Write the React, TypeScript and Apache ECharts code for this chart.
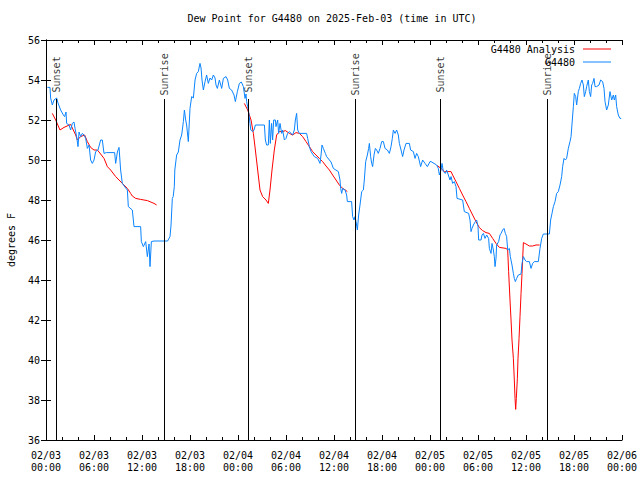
import React, { useEffect, useRef } from "react";
import * as echarts from "echarts";

const TITLE = "Dew Point for G4480 on 2025-Feb-03 (time in UTC)";
const OBS_NAME = "G4480";
const ANALYSIS_NAME = "G4480 Analysis";
const Y_NAME = "degrees F";
const DAY_LABELS = ["02/03", "02/04", "02/05", "02/06"];

// hours since 2025-02-03 00:00 UTC
const sunEventNames = ["Sunset", "Sunrise", "Sunset", "Sunrise", "Sunset", "Sunrise"];
const sunEventHours = [1.25, 14.78, 25.25, 38.63, 49.29, 62.65];

// [hours since 02/03 00:00 UTC, dew point °F]
const g4480Obs: [number, number][] = [
  [0.17, 53.63], [0.5, 53.63], [0.58, 53.1], [0.79, 52.75], [1.0, 53.0], [1.33, 53.1], [1.5, 52.85],
  [1.83, 52.5], [2.17, 52.25], [2.33, 52.17], [2.5, 52.4], [2.58, 51.83], [2.88, 51.75], [3.08, 51.5],
  [3.29, 51.83], [3.5, 51.9], [3.63, 51.58], [3.83, 51.17], [4.0, 50.67], [4.13, 51.4], [4.33, 51.17],
  [4.54, 51.33], [4.75, 51.25], [4.96, 51.08], [5.17, 50.58], [5.38, 50.75], [5.58, 50.0], [5.79, 49.83],
  [6.0, 50.0], [6.21, 50.42], [6.5, 50.5], [6.83, 51.0], [7.04, 51.0], [7.25, 50.33], [7.54, 50.37],
  [8.58, 50.37], [8.71, 49.83], [8.92, 50.4], [9.13, 50.63], [9.33, 49.5], [9.54, 48.83], [9.96, 48.6],
  [10.17, 48.5], [10.29, 47.67], [10.79, 47.5], [11.0, 46.67], [11.83, 46.67], [11.92, 45.92],
  [12.17, 45.67], [12.46, 45.92], [12.67, 45.17], [12.88, 45.8], [13.0, 44.67], [13.17, 45.92],
  [13.5, 45.95], [15.2, 45.95], [15.5, 46.17], [15.63, 46.75], [15.79, 48.08], [15.9, 48.17],
  [16.04, 48.67], [16.1, 49.5], [16.33, 50.25], [16.54, 50.4], [16.75, 51.0], [16.96, 51.25],
  [17.17, 51.92], [17.3, 52.5], [17.46, 52.0], [17.58, 51.75], [17.79, 50.92], [18.0, 52.58],
  [18.21, 53.17], [18.42, 53.1], [18.63, 54.0], [18.83, 54.33], [19.04, 54.42], [19.25, 54.83],
  [19.38, 54.6], [19.5, 54.0], [19.67, 53.5], [19.88, 53.92], [20.08, 54.25], [20.29, 53.83],
  [20.5, 54.1], [20.71, 54.0], [20.92, 54.25], [21.13, 54.1], [21.25, 53.75], [21.42, 53.58],
  [21.67, 54.0], [21.96, 53.58], [22.17, 54.08], [22.5, 54.17], [22.71, 54.0], [22.92, 53.58],
  [23.2, 53.5], [23.5, 53.25], [23.67, 52.92], [23.92, 53.42], [24.17, 53.83], [24.42, 53.9],
  [24.67, 53.67], [24.88, 53.08], [25.0, 53.3], [25.08, 52.92], [25.2, 52.67], [25.33, 52.42],
  [25.5, 51.83], [25.6, 51.5], [25.83, 51.42], [26.0, 51.5], [26.17, 51.75], [27.3, 51.75],
  [27.42, 51.0], [27.58, 50.75], [27.79, 50.75], [27.92, 52.0], [28.04, 50.83], [28.2, 51.83],
  [28.33, 51.0], [28.46, 52.0], [28.67, 52.0], [28.75, 51.67], [28.96, 52.0], [29.08, 51.33],
  [29.25, 51.83], [29.46, 51.33], [29.58, 51.5], [29.8, 51.0], [30.0, 51.08], [30.2, 51.33],
  [30.42, 51.42], [30.83, 51.25], [31.04, 51.5], [31.17, 52.0], [31.33, 52.33], [31.46, 51.5],
  [31.67, 51.33], [32.58, 51.33], [32.71, 51.08], [32.92, 50.67], [33.13, 50.42], [33.54, 50.17],
  [33.96, 50.08], [34.25, 49.83], [34.38, 50.25], [34.5, 50.75], [34.67, 50.58], [34.92, 50.33],
  [35.08, 50.17], [35.42, 50.0], [35.63, 49.9], [35.92, 49.58], [36.54, 49.42], [36.75, 49.0],
  [36.83, 48.58], [36.96, 48.33], [37.08, 48.58], [37.38, 48.5], [37.58, 48.25], [37.67, 47.92],
  [38.2, 47.92], [38.33, 47.17], [38.5, 47.0], [38.63, 47.17], [38.75, 46.92], [38.92, 46.5],
  [39.08, 47.25], [39.25, 47.75], [39.46, 48.42], [39.67, 48.5], [39.79, 49.0], [39.96, 49.92],
  [40.17, 50.25], [40.33, 50.58], [40.42, 50.83], [40.58, 50.17], [40.71, 49.83], [40.83, 49.67],
  [41.0, 50.25], [41.17, 50.58], [41.33, 50.5], [41.54, 50.33], [41.75, 50.58], [41.96, 50.92],
  [42.17, 50.92], [42.38, 50.58], [42.67, 50.5], [42.92, 50.33], [43.13, 50.67], [43.29, 51.08],
  [43.42, 51.5], [43.63, 51.33], [43.83, 51.5], [44.04, 51.25], [44.17, 50.83], [44.38, 50.5],
  [44.58, 50.17], [44.75, 50.5], [45.0, 50.83], [45.42, 50.83], [45.58, 50.5], [45.92, 50.42],
  [46.13, 50.08], [46.33, 50.33], [46.54, 50.17], [46.83, 49.67], [47.08, 50.0], [47.38, 49.83],
  [47.67, 49.67], [48.0, 49.92], [48.13, 49.92], [48.5, 49.83], [48.83, 49.75], [49.04, 49.58],
  [49.17, 49.25], [49.38, 49.5], [49.5, 49.83], [49.67, 49.42], [49.92, 49.33], [50.08, 49.5],
  [50.29, 49.25], [50.5, 49.0], [50.63, 49.17], [50.83, 48.83], [51.04, 48.92], [51.25, 48.67],
  [51.38, 48.08], [52.08, 48.0], [52.29, 47.42], [52.83, 47.33], [53.0, 47.0], [53.13, 46.42],
  [53.25, 46.58], [53.42, 46.75], [53.67, 46.92], [53.83, 47.0], [54.0, 46.67], [54.08, 46.0],
  [54.38, 46.0], [54.5, 46.25], [54.67, 46.33], [54.88, 46.08], [55.08, 46.25], [55.33, 46.08],
  [55.42, 45.58], [55.63, 45.33], [55.75, 45.83], [55.92, 45.5], [56.04, 45.17], [56.13, 44.67],
  [56.25, 45.08], [56.33, 45.75], [56.58, 45.92], [56.75, 46.25], [56.88, 46.33], [57.08, 46.5],
  [57.25, 46.58], [57.42, 46.33], [57.58, 46.17], [57.71, 45.5], [57.92, 45.58], [58.04, 45.17],
  [58.25, 44.75], [58.42, 44.33], [58.54, 44.08], [58.67, 43.92], [58.83, 44.08], [59.04, 44.25],
  [59.38, 44.3], [59.5, 44.83], [59.67, 45.17], [59.88, 45.0], [60.08, 44.92], [60.42, 44.92],
  [60.63, 44.58], [60.83, 44.83], [61.04, 44.92], [61.54, 44.92], [61.75, 45.58], [61.96, 46.08],
  [62.17, 46.3], [62.92, 46.3], [63.08, 47.0], [63.25, 47.33], [63.42, 47.67], [63.63, 47.92],
  [63.83, 48.33], [64.04, 48.42], [64.25, 48.75], [64.46, 49.17], [64.58, 49.67], [64.75, 50.08],
  [64.92, 50.0], [65.08, 50.08], [65.29, 50.58], [65.5, 50.92], [65.63, 51.17], [65.79, 52.0],
  [65.92, 52.67], [66.04, 53.33], [66.21, 53.17], [66.33, 52.75], [66.54, 53.42], [66.67, 53.58],
  [66.83, 53.83], [67.0, 54.0], [67.17, 53.75], [67.29, 53.17], [67.46, 53.42], [67.58, 53.67],
  [67.79, 54.0], [67.92, 53.42], [68.08, 53.17], [68.21, 53.75], [68.33, 53.83], [68.5, 54.08],
  [68.63, 53.67], [68.83, 53.67], [69.13, 53.75], [69.33, 54.0], [69.58, 53.92], [69.75, 53.58],
  [69.88, 52.92], [70.08, 52.5], [70.29, 52.75], [70.5, 53.42], [70.71, 53.0], [70.92, 53.25],
  [71.04, 53.0], [71.21, 53.25], [71.33, 52.67], [71.54, 52.25], [71.75, 52.08], [71.9, 52.08],
];

const analysisDay1: [number, number][] = [
  [0.79, 52.33], [1.21, 52.0], [1.75, 51.5], [2.25, 51.63], [3.08, 51.78], [3.71, 51.25], [3.92, 51.0],
  [4.33, 51.17], [4.83, 51.25], [5.17, 50.92], [5.58, 50.63], [6.0, 50.5], [6.42, 50.5], [6.83, 50.3],
  [7.25, 50.08], [7.67, 49.67], [8.08, 49.5], [8.71, 49.17], [9.54, 48.83], [10.17, 48.58],
  [10.58, 48.33], [10.79, 48.2], [11.21, 48.08], [11.83, 48.03], [12.67, 47.97], [13.5, 47.83],
  [13.83, 47.75],
];

const analysisDay2: [number, number][] = [
  [24.79, 52.83], [25.21, 52.5], [25.63, 52.0], [25.92, 51.33], [26.17, 50.5], [26.46, 49.5],
  [26.75, 48.5], [27.08, 48.17], [27.5, 48.0], [27.79, 47.83], [28.0, 48.5], [28.25, 49.5],
  [28.54, 50.5], [28.83, 51.25], [29.17, 51.42], [29.58, 51.42], [29.92, 51.47], [30.42, 51.33],
  [30.83, 51.25], [31.25, 51.37], [31.67, 51.33], [32.08, 51.17], [32.5, 50.92], [32.92, 50.67],
  [33.33, 50.42], [33.75, 50.25], [34.17, 50.08], [34.58, 49.92], [35.0, 49.7], [35.42, 49.5],
  [35.83, 49.25], [36.25, 49.0], [36.67, 48.75], [37.08, 48.58], [37.42, 48.5], [37.67, 48.42],
];

const analysisDay3: [number, number][] = [
  [48.9, 49.72], [49.38, 49.58], [49.79, 49.42], [50.21, 49.42], [50.63, 49.42], [50.83, 49.25],
  [51.25, 48.92], [51.67, 48.58], [52.08, 48.25], [52.5, 47.92], [52.92, 47.58], [53.33, 47.25],
  [53.75, 46.92], [54.17, 46.62], [54.58, 46.47], [55.0, 46.37], [55.42, 46.33], [55.83, 46.08],
  [56.25, 45.83], [56.67, 45.63], [57.5, 45.58], [57.71, 45.5], [57.83, 44.42], [58.0, 43.0],
  [58.13, 42.0], [58.25, 41.0], [58.42, 40.08], [58.54, 39.0], [58.63, 38.08], [58.71, 37.53],
  [58.79, 38.08], [58.92, 39.08], [59.0, 40.08], [59.13, 41.08], [59.25, 42.17], [59.38, 43.33],
  [59.5, 44.33], [59.58, 45.0], [59.67, 45.87], [60.0, 45.8], [60.42, 45.7], [60.83, 45.7],
  [61.25, 45.75], [61.7, 45.75],
];

const X_MIN = 0;
const X_MAX = 72;
const Y_MIN = 36;
const Y_MAX = 56;

const FONT = "'DejaVu Sans Mono', monospace";
const RED = "#ff0000";
const BLUE = "#0a84ff";

function pad(n: number) {
  return n < 10 ? "0" + n : "" + n;
}

export default function App() {
  const ref = useRef<HTMLDivElement>(null);

  useEffect(() => {
    if (!ref.current) return;
    const chart = echarts.init(ref.current, undefined, { renderer: "svg" });

    const lineTop = 53.05;
    const labelCenter = 54.28;

    const analysisStyle = {
      type: "line",
      name: ANALYSIS_NAME,
      showSymbol: false,
      symbol: "none",
      lineStyle: { color: RED, width: 1 },
      itemStyle: { color: RED },
      xAxisIndex: 0,
      yAxisIndex: 0,
      z: 3,
    };

    const xAxisBase = {
      type: "value",
      min: X_MIN,
      max: X_MAX,
      interval: 6,
      splitLine: { show: false },
      axisLine: { show: true, lineStyle: { color: "#000", width: 1 } },
      axisTick: { show: true, inside: true, length: 5, lineStyle: { color: "#000" } },
      minorTick: { show: true, splitNumber: 3, length: 3, lineStyle: { color: "#000" } },
    };
    const yAxisBase = {
      type: "value",
      min: Y_MIN,
      max: Y_MAX,
      interval: 2,
      splitLine: { show: false },
      axisLine: { show: true, lineStyle: { color: "#000", width: 1 } },
      axisTick: { show: true, inside: true, length: 5, lineStyle: { color: "#000" } },
    };

    chart.setOption({
      animation: false,
      backgroundColor: "#fff",
      textStyle: { fontFamily: FONT },
      title: {
        text: TITLE,
        left: 327,
        top: 8,
        textAlign: "center",
        textStyle: { fontFamily: FONT, fontSize: 10, fontWeight: "normal", color: "#000" },
      },
      legend: {
        data: [ANALYSIS_NAME, OBS_NAME],
        orient: "vertical",
        right: 24,
        top: 38,
        align: "right",
        icon: "rect",
        itemWidth: 28,
        itemHeight: 1,
        itemGap: 1,
        textStyle: { fontFamily: FONT, fontSize: 10, color: "#000", lineHeight: 12, padding: [0, 3, 0, 0] },
        selectedMode: false,
      },
      grid: {
        left: 46,
        right: 18,
        top: 40,
        bottom: 40,
        show: false,
        containLabel: false,
        outerBoundsMode: "none",
      },
      xAxis: [
        {
          ...xAxisBase,
          position: "bottom",
          axisLabel: {
            show: true,
            margin: 9,
            fontFamily: FONT,
            fontSize: 10,
            lineHeight: 12,
            color: "#000",
            formatter: (v: number) => {
              const day = Math.floor(v / 24);
              const hh = v - day * 24;
              return DAY_LABELS[day] + "\n" + pad(hh) + ":00";
            },
          },
        },
        { ...xAxisBase, position: "top", axisLabel: { show: false } },
      ],
      yAxis: [
        {
          ...yAxisBase,
          position: "left",
          name: Y_NAME,
          nameLocation: "middle",
          nameGap: 30,
          nameRotate: 90,
          nameTextStyle: { fontFamily: FONT, fontSize: 10, color: "#000" },
          axisLabel: { show: true, margin: 6, fontFamily: FONT, fontSize: 10, color: "#000" },
        },
        { ...yAxisBase, position: "right", axisLabel: { show: false } },
      ],
      series: [
        { ...analysisStyle, data: analysisDay1 },
        { ...analysisStyle, data: analysisDay2 },
        { ...analysisStyle, data: analysisDay3 },
        {
          type: "line",
          name: OBS_NAME,
          data: g4480Obs,
          showSymbol: false,
          symbol: "none",
          lineStyle: { color: BLUE, width: 1 },
          itemStyle: { color: BLUE },
          xAxisIndex: 0,
          yAxisIndex: 0,
          z: 4,
        },
        {
          type: "scatter",
          name: "sun",
          symbolSize: 0,
          silent: true,
          xAxisIndex: 0,
          yAxisIndex: 0,
          data: sunEventHours.map((h, i) => ({ name: sunEventNames[i], value: [h, labelCenter] })),
          label: {
            show: true,
            formatter: "{b}",
            position: "inside",
            rotate: 90,
            fontFamily: FONT,
            fontSize: 10,
            color: "#000",
          },
          markLine: {
            silent: true,
            symbol: "none",
            label: { show: false },
            lineStyle: { color: "#000", width: 1, type: "solid" },
            data: sunEventHours.map((h) => [{ coord: [h, Y_MIN] }, { coord: [h, lineTop] }]),
          },
          z: 2,
        },
      ],
    });

    return () => chart.dispose();
  }, []);

  return (
    <div
      ref={ref}
      style={{ width: 640, height: 480, position: "fixed", left: 0, top: 0 }}
    />
  );
}
